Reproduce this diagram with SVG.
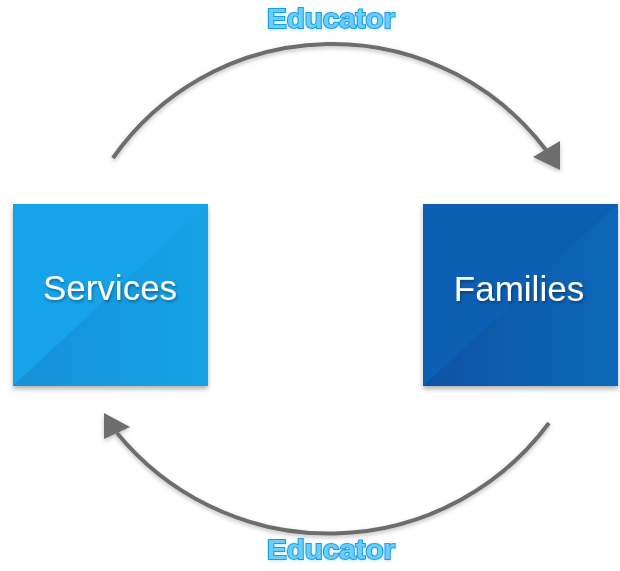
<svg xmlns="http://www.w3.org/2000/svg" width="620" height="571" viewBox="0 0 620 571">
  <style>
    .lbl { font-family: "Liberation Sans", Arial, sans-serif; font-weight: bold; font-size: 27px; fill: #6ccdf7; stroke: #159fe8; stroke-width: 2px; paint-order: stroke; }
    .node-text { font-family: "Liberation Sans", Arial, sans-serif; font-size: 35px; fill: #ffffff; }
    .arc { fill: none; stroke: #6d6d6d; stroke-width: 4; stroke-linecap: butt; }
    .head { fill: #6d6d6d; }
  </style>
  <defs>
    <linearGradient id="gS" x1="0" y1="0" x2="1" y2="0">
      <stop offset="0" stop-color="#1590d7"/>
      <stop offset="1" stop-color="#18a3e6"/>
    </linearGradient>
    <linearGradient id="gF" x1="0" y1="0" x2="1" y2="0">
      <stop offset="0" stop-color="#0a53a3"/>
      <stop offset="1" stop-color="#1168ba"/>
    </linearGradient>
    <filter id="boxShadow" x="-10%" y="-10%" width="120%" height="125%">
      <feDropShadow dx="0" dy="3" stdDeviation="2.5" flood-color="#000" flood-opacity="0.3"/>
    </filter>
    <filter id="txtShadow" x="-10%" y="-20%" width="120%" height="150%">
      <feDropShadow dx="1" dy="2" stdDeviation="1.5" flood-color="#000" flood-opacity="0.35"/>
    </filter>
    <filter id="arcShadow" x="-10%" y="-10%" width="120%" height="130%">
      <feDropShadow dx="0" dy="2" stdDeviation="2" flood-color="#000" flood-opacity="0.25"/>
    </filter>
    <filter id="glow" x="-10%" y="-30%" width="120%" height="160%">
      <feDropShadow dx="0" dy="1" stdDeviation="1.5" flood-color="#9ad9f5" flood-opacity="0.6"/>
    </filter>
  </defs>
  <rect width="620" height="571" fill="#ffffff"/>

  <g id="connectors" filter="url(#arcShadow)">
    <path class="arc" d="M113,158 A268,268 0 0 1 546,150"/>
    <polygon class="head" points="560,141 560,170 533,157"/>
    <path class="arc" d="M549,423 A274,274 0 0 1 117,433"/>
    <polygon class="head" points="104,413 104,439 130,427"/>
  </g>

  <g id="node-services">
    <g filter="url(#boxShadow)">
      <rect x="13" y="204" width="195" height="182" fill="#12a3ea"/>
      <polygon points="13,386 208,204 208,386" fill="url(#gS)"/>
    </g>
    <text class="node-text" x="110" y="300" text-anchor="middle" filter="url(#txtShadow)">Services</text>
  </g>

  <g id="node-families">
    <g filter="url(#boxShadow)">
      <rect x="423" y="204" width="195" height="182" fill="#0b5fb4"/>
      <polygon points="423,386 618,204 618,386" fill="url(#gF)"/>
    </g>
    <text class="node-text" x="519" y="301" text-anchor="middle" filter="url(#txtShadow)">Families</text>
  </g>

  <g id="label-top" filter="url(#glow)">
    <text class="lbl" x="267" y="28" textLength="128" lengthAdjust="spacingAndGlyphs">Educator</text>
  </g>
  <g id="label-bottom" filter="url(#glow)">
    <text class="lbl" x="267" y="559" textLength="128" lengthAdjust="spacingAndGlyphs">Educator</text>
  </g>
</svg>
